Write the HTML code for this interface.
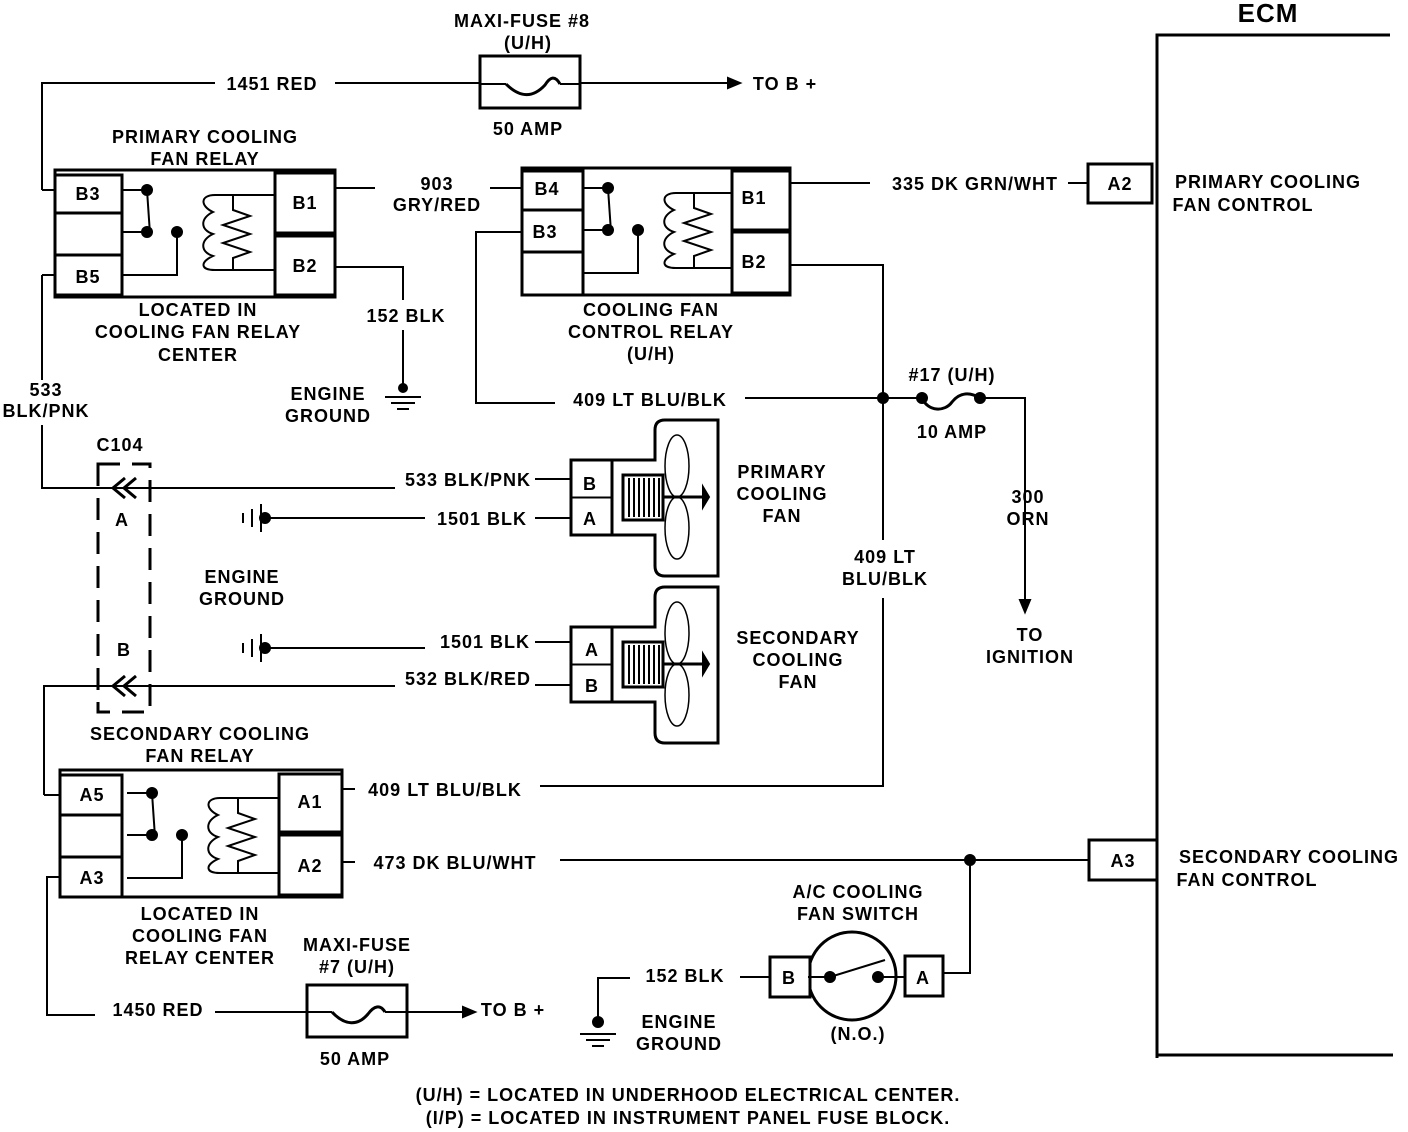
<!DOCTYPE html>
<html><head><meta charset="utf-8"><style>
html,body{margin:0;padding:0;background:#fff;}
svg{display:block;}
text{font-family:"Liberation Sans",sans-serif;font-weight:bold;font-size:18px;fill:#000;text-anchor:middle;letter-spacing:1px;}
</style></head><body>
<svg width="1408" height="1132" viewBox="0 0 1408 1132" xmlns="http://www.w3.org/2000/svg">
<defs>
<g id="relayInner" fill="none" stroke="#000" stroke-width="2">
  <path d="M67,20 H92 L95,64 M67,62 H92 M122,62 V105 H67"/>
  <circle cx="92" cy="20" r="5" fill="#000"/><circle cx="92" cy="62" r="5" fill="#000"/><circle cx="122" cy="62" r="5" fill="#000"/>
  <path d="M220,25 H160 C145,25 145,36 158,42 C145,48 145,60 158,64 C145,70 145,82 158,86 C145,92 145,100 160,100 H220"/>
  <path d="M178,25 V40 L195,46 L168,55 L195,64 L168,73 L195,82 L178,88 V100"/>
</g>
<g id="fan" fill="none" stroke="#000">
  <path d="M41,0 H84 V-30 Q84,-40 94,-40 H147 V116 H94 Q84,116 84,106 V75 H41" stroke-width="3"/>
  <rect x="52" y="15" width="40" height="45" stroke-width="3"/>
  <path d="M58,18 V57 M63,18 V57 M68,18 V57 M73,18 V57 M78,18 V57 M83,18 V57 M88,18 V57" stroke-width="2"/>
  <path d="M92,37 H132" stroke-width="3"/>
  <ellipse cx="106" cy="6" rx="12" ry="31" stroke-width="1.5"/>
  <ellipse cx="106" cy="68" rx="12" ry="31" stroke-width="1.5"/>
  <path d="M132,27 L138,37 L132,47 Z" fill="#000"/>
  <rect x="0" y="0" width="41" height="75" stroke-width="3" fill="#fff"/>
  <path d="M0,37.5 H41" stroke-width="2"/>
</g>
<g id="vgnd" stroke="#000" stroke-width="2">
  <path d="M20,-14 V14 M11,-9 V9 M2,-5 V5"/>
  <circle cx="24" cy="0" r="5" fill="#000"/>
</g>
<g id="hgnd" stroke="#000" stroke-width="2">
  <path d="M-18,0 H18 M-12,6 H12 M-6,12 H6"/>
</g>
</defs>

<g fill="none" stroke="#000" stroke-width="2">
<!-- ECM -->
<path d="M1157,1058 V35 H1390 M1157,1055 H1393" stroke-width="3"/>
<rect x="1088" y="164" width="64" height="39" stroke-width="3"/>
<rect x="1089" y="840" width="68" height="40" stroke-width="3"/>

<!-- top fuse -->
<rect x="480" y="56" width="100" height="52" stroke-width="3"/>
<path d="M42,190 V83 H215 M335,83 H480 M580,83 H740"/>
<path d="M506,84 C520,98 533,98 545,85 C550,77 555,75 560,84" stroke-width="3"/>
<path d="M480,84 H506 M560,84 H580"/>
<path d="M740,83 l-12,-5 v10 z" fill="#000"/>

<!-- primary relay -->
<rect x="55" y="170" width="280" height="127" stroke-width="3"/>
<path d="M42,190 H55 M42,275 H55 M42,275 V380 M42,425 V488 H395 M535,479 H571"/>
<path d="M335,188 H375 M490,188 H522 M335,267 H403 V300 M403,330 V388"/>
<use href="#hgnd" x="403" y="397"/>
<circle cx="403" cy="388" r="4" fill="#000"/>
<path d="M490,188 V188"/>
<use href="#relayInner" x="55" y="170"/>
<rect x="55" y="175" width="67" height="38" fill="#fff" stroke-width="3"/>
<rect x="55" y="213" width="67" height="42" fill="#fff" stroke-width="3"/>
<rect x="55" y="255" width="67" height="40" fill="#fff" stroke-width="3"/>
<rect x="275" y="173" width="60" height="60" fill="#fff" stroke-width="3"/>
<rect x="275" y="236" width="60" height="59" fill="#fff" stroke-width="3"/>

<!-- control relay -->
<rect x="522" y="168" width="268" height="127" stroke-width="3"/>
<use href="#relayInner" x="516" y="168"/>
<rect x="522" y="171" width="61" height="39" fill="#fff" stroke-width="3"/>
<rect x="522" y="210" width="61" height="42" fill="#fff" stroke-width="3"/>
<rect x="522" y="252" width="61" height="43" fill="#fff" stroke-width="3"/>
<rect x="732" y="171" width="58" height="59" fill="#fff" stroke-width="3"/>
<rect x="732" y="232" width="58" height="61" fill="#fff" stroke-width="3"/>
<path d="M790,183 H870 M1068,183 H1088"/>
<path d="M522,232 H476 V403 H555 M745,398 H920 M980,398 H1025 V605"/>
<path d="M1025,612 l-5,-12 h10 z" fill="#000"/>
<path d="M790,265 H883 V540 M883,598 V786 H540 M355,789 H342"/>
<circle cx="883" cy="398" r="5" fill="#000"/>
<circle cx="922" cy="398" r="5" fill="#000"/><circle cx="980" cy="398" r="5" fill="#000"/>
<path d="M922,398 C928,412 945,412 952,402 C960,392 970,392 980,398" stroke-width="3"/>

<!-- fans -->
<use href="#fan" x="571" y="460"/>
<use href="#fan" x="571" y="627"/>
<path d="M265,518 H425 M535,518 H571 M265,648 H425 M535,642 H571"/>
<use href="#vgnd" x="241" y="518"/>
<use href="#vgnd" x="241" y="648"/>

<!-- C104 -->
<rect x="98" y="464" width="52" height="248" stroke-width="3" stroke-dasharray="22,12"/>
<path d="M125,478 L113,488 L125,498 M136,478 L124,488 L136,498" stroke-width="3"/>
<path d="M125,676 L113,686 L125,696 M136,676 L124,686 L136,696" stroke-width="3"/>
<path d="M44,795 V686 H395 M535,685 H571"/>

<!-- secondary relay -->
<rect x="60" y="770" width="282" height="127" stroke-width="3"/>
<use href="#relayInner" x="60" y="773"/>
<rect x="60" y="775" width="62" height="40" fill="#fff" stroke-width="3"/>
<rect x="60" y="815" width="62" height="42" fill="#fff" stroke-width="3"/>
<rect x="60" y="857" width="62" height="40" fill="#fff" stroke-width="3"/>
<rect x="279" y="774" width="63" height="58" fill="#fff" stroke-width="3"/>
<rect x="279" y="835" width="63" height="60" fill="#fff" stroke-width="3"/>
<path d="M44,795 H60 M60,877 H47 V1015 H95 M342,862 H355 M560,860 H1089"/>
<circle cx="970" cy="860" r="5" fill="#000"/>
<path d="M970,860 V973 H943"/>

<!-- bottom fuse -->
<rect x="307" y="985" width="100" height="52" stroke-width="3"/>
<path d="M215,1012 H307 M407,1012 H475 M307,1012 H332 M385,1012 H407"/>
<path d="M332,1012 C345,1026 358,1026 368,1014 C374,1006 380,1004 385,1012" stroke-width="3"/>
<path d="M475,1012 l-12,-5 v10 z" fill="#000"/>

<!-- A/C switch -->
<circle cx="852" cy="976" r="44" stroke-width="3"/>
<rect x="770" y="957" width="40" height="40" fill="#fff" stroke-width="3"/>
<rect x="905" y="956" width="38" height="40" fill="#fff" stroke-width="3"/>
<path d="M808,977 H830 L885,960 M878,977 H905"/>
<circle cx="830" cy="977" r="5" fill="#000"/><circle cx="878" cy="977" r="5" fill="#000"/>
<path d="M770,977 H740 M630,978 H598 V1022"/>
<circle cx="598" cy="1022" r="5" fill="#000"/>
<use href="#hgnd" x="598" y="1034"/>
</g>

<!-- texts -->
<text x="1268" y="22" style="font-size:26px">ECM</text>
<text x="522" y="27">MAXI-FUSE #8</text>
<text x="528" y="49">(U/H)</text>
<text x="528" y="135">50 AMP</text>
<text x="272" y="90">1451 RED</text>
<text x="785" y="90">TO B +</text>
<text x="205" y="143">PRIMARY COOLING</text>
<text x="205" y="165">FAN RELAY</text>
<text x="88" y="200">B3</text><text x="88" y="283">B5</text>
<text x="305" y="209">B1</text><text x="305" y="272">B2</text>
<text x="198" y="316">LOCATED IN</text>
<text x="198" y="338">COOLING FAN RELAY</text>
<text x="198" y="361">CENTER</text>
<text x="437" y="190">903</text><text x="437" y="211">GRY/RED</text>
<text x="406" y="322">152 BLK</text>
<text x="328" y="400">ENGINE</text><text x="328" y="422">GROUND</text>
<text x="46" y="396">533</text><text x="46" y="417">BLK/PNK</text>
<text x="547" y="195">B4</text><text x="545" y="238">B3</text>
<text x="754" y="204">B1</text><text x="754" y="268">B2</text>
<text x="651" y="316">COOLING FAN</text>
<text x="651" y="338">CONTROL RELAY</text>
<text x="651" y="360">(U/H)</text>
<text x="650" y="406">409 LT BLU/BLK</text>
<text x="975" y="190">335 DK GRN/WHT</text>
<text x="1268" y="188">PRIMARY COOLING</text>
<text x="1243" y="211">FAN CONTROL</text>
<text x="1120" y="190">A2</text>
<text x="952" y="381">#17 (U/H)</text>
<text x="952" y="438">10 AMP</text>
<text x="1028" y="503">300</text><text x="1028" y="525">ORN</text>
<text x="1030" y="641">TO</text><text x="1030" y="663">IGNITION</text>
<text x="120" y="451">C104</text>
<text x="122" y="526">A</text><text x="124" y="656">B</text>
<text x="468" y="486">533 BLK/PNK</text>
<text x="482" y="525">1501 BLK</text>
<text x="590" y="490">B</text><text x="590" y="525">A</text>
<text x="782" y="478">PRIMARY</text><text x="782" y="500">COOLING</text><text x="782" y="522">FAN</text>
<text x="242" y="583">ENGINE</text><text x="242" y="605">GROUND</text>
<text x="885" y="563">409 LT</text><text x="885" y="585">BLU/BLK</text>
<text x="485" y="648">1501 BLK</text>
<text x="468" y="685">532 BLK/RED</text>
<text x="592" y="656">A</text><text x="592" y="692">B</text>
<text x="798" y="644">SECONDARY</text><text x="798" y="666">COOLING</text><text x="798" y="688">FAN</text>
<text x="200" y="740">SECONDARY COOLING</text>
<text x="200" y="762">FAN RELAY</text>
<text x="92" y="801">A5</text><text x="92" y="884">A3</text>
<text x="310" y="808">A1</text><text x="310" y="872">A2</text>
<text x="445" y="796">409 LT BLU/BLK</text>
<text x="455" y="869">473 DK BLU/WHT</text>
<text x="1123" y="867">A3</text>
<text x="1289" y="863">SECONDARY COOLING</text>
<text x="1247" y="886">FAN CONTROL</text>
<text x="200" y="920">LOCATED IN</text>
<text x="200" y="942">COOLING FAN</text>
<text x="200" y="964">RELAY CENTER</text>
<text x="858" y="898">A/C COOLING</text>
<text x="858" y="920">FAN SWITCH</text>
<text x="789" y="984">B</text><text x="923" y="984">A</text>
<text x="858" y="1040">(N.O.)</text>
<text x="685" y="982">152 BLK</text>
<text x="679" y="1028">ENGINE</text><text x="679" y="1050">GROUND</text>
<text x="357" y="951">MAXI-FUSE</text>
<text x="357" y="973">#7 (U/H)</text>
<text x="355" y="1065">50 AMP</text>
<text x="158" y="1016">1450 RED</text>
<text x="513" y="1016">TO B +</text>
<text x="688" y="1101">(U/H)  =  LOCATED IN UNDERHOOD ELECTRICAL CENTER.</text>
<text x="688" y="1124">(I/P)  =  LOCATED IN INSTRUMENT PANEL FUSE BLOCK.</text>
</svg>
</body></html>
